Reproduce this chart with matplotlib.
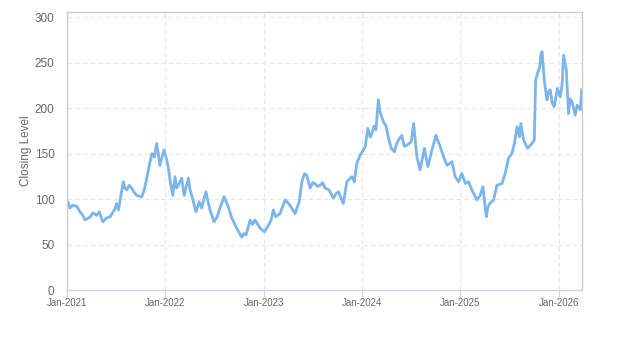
import pandas as pd
import matplotlib.pyplot as plt
import matplotlib.dates as mdates

# closing levels, sampled roughly every one to two weeks
dates = [
    '2021-01-01', '2021-01-05', '2021-01-12', '2021-01-22', '2021-02-06', '2021-02-18',
    '2021-03-01', '2021-03-09', '2021-03-27', '2021-04-08', '2021-04-21', '2021-05-01',
    '2021-05-14', '2021-05-27', '2021-06-10', '2021-06-28', '2021-07-04', '2021-07-11',
    '2021-07-29', '2021-08-04', '2021-08-11', '2021-08-20', '2021-08-29', '2021-09-08',
    '2021-09-17', '2021-10-06', '2021-10-15', '2021-10-24', '2021-11-05', '2021-11-12',
    '2021-11-21', '2021-11-30', '2021-12-06', '2021-12-12', '2021-12-20', '2021-12-27',
    '2022-01-05', '2022-01-12', '2022-01-20', '2022-01-29', '2022-02-06', '2022-02-12',
    '2022-02-18', '2022-03-03', '2022-03-12', '2022-03-28', '2022-04-03', '2022-04-09',
    '2022-04-25', '2022-05-07', '2022-05-16', '2022-06-01', '2022-06-08', '2022-06-16',
    '2022-07-01', '2022-07-13', '2022-07-23', '2022-08-07', '2022-08-15', '2022-08-23',
    '2022-09-05', '2022-09-23', '2022-10-12', '2022-10-20', '2022-10-28', '2022-11-12',
    '2022-11-21', '2022-11-30', '2022-12-19', '2023-01-04', '2023-01-19', '2023-01-29',
    '2023-02-06', '2023-02-15', '2023-03-03', '2023-03-22', '2023-04-01', '2023-04-09',
    '2023-04-28', '2023-05-13', '2023-05-23', '2023-06-02', '2023-06-10', '2023-06-23',
    '2023-07-02', '2023-07-11', '2023-07-20', '2023-07-30', '2023-08-08', '2023-08-17',
    '2023-09-01', '2023-09-17', '2023-09-27', '2023-10-06', '2023-10-24', '2023-11-06',
    '2023-11-25', '2023-12-04', '2023-12-13', '2023-12-25', '2024-01-07', '2024-01-13',
    '2024-01-23', '2024-02-01', '2024-02-07', '2024-02-15', '2024-02-22', '2024-03-02',
    '2024-03-08', '2024-03-15', '2024-03-22', '2024-03-30', '2024-04-09', '2024-04-19',
    '2024-05-01', '2024-05-08', '2024-05-16', '2024-05-28', '2024-06-06', '2024-06-16',
    '2024-07-02', '2024-07-11', '2024-07-23', '2024-08-04', '2024-08-20', '2024-09-02',
    '2024-09-17', '2024-10-02', '2024-10-10', '2024-10-18', '2024-10-30', '2024-11-12',
    '2024-11-30', '2024-12-12', '2024-12-25', '2025-01-06', '2025-01-19', '2025-01-31',
    '2025-02-12', '2025-03-03', '2025-03-15', '2025-03-25', '2025-04-07', '2025-04-12',
    '2025-04-19', '2025-05-04', '2025-05-16', '2025-06-04', '2025-06-16', '2025-06-28',
    '2025-07-11', '2025-07-20', '2025-07-30', '2025-08-08', '2025-08-13', '2025-08-23',
    '2025-09-07', '2025-09-23', '2025-10-02', '2025-10-07', '2025-10-14', '2025-10-22',
    '2025-10-27', '2025-10-31', '2025-11-08', '2025-11-18', '2025-11-24', '2025-11-30',
    '2025-12-08', '2025-12-15', '2025-12-27', '2026-01-06', '2026-01-13', '2026-01-19',
    '2026-01-29', '2026-02-06', '2026-02-12', '2026-02-19', '2026-03-03', '2026-03-10',
    '2026-03-16', '2026-03-22', '2026-03-27',
]
closing = [
    95, 97, 90, 93, 92, 86,
    82, 77, 80, 85, 82, 86,
    75, 79, 80.5, 89, 95, 88,
    119, 112, 110, 115, 112, 107,
    104, 102.5, 110, 123, 140, 150,
    146, 161, 150, 137, 146, 154,
    145, 135, 118, 104, 124.5, 112,
    115, 123, 104, 123, 110, 104,
    86, 97, 90, 108, 98, 88,
    75, 80.5, 90, 102.5, 97, 91.5,
    79, 68, 58, 62, 60.5, 77,
    72, 77, 68, 64, 71, 77,
    88, 80.5, 84, 99, 96, 93,
    84, 97, 119, 128, 126, 112,
    118, 117, 114, 115, 118, 112,
    110, 101, 106, 108, 95, 119,
    124.5, 119, 139, 148, 154, 157.5,
    177.7, 168, 172, 180, 176, 209,
    196, 190, 184, 181, 166.6, 155.7,
    152, 160, 165, 170, 158, 159,
    163, 183, 146.5, 132, 155.7, 135.5,
    154, 170, 163, 157.5, 146.5, 137,
    141, 124.5, 119, 128, 117, 119,
    110, 99, 104, 113.5, 80.5, 90,
    95, 99, 115, 117, 128, 144.7,
    150, 161, 179.5, 168.5, 183, 165,
    155.7, 161, 165, 231, 238, 245,
    260, 262, 231, 209, 218, 220,
    205, 201.5, 221.6, 212, 225, 258,
    242, 194, 210, 207, 192, 203,
    201.5, 198, 220,
]

x = pd.to_datetime(dates)

plt.rcParams['font.family'] = ['Liberation Sans', 'DejaVu Sans']

fig = plt.figure(figsize=(6.23, 3.5), dpi=100)
ax = fig.add_axes([0.1075, 0.1714, 0.8262, 0.7943])

ax.plot(x, closing, color='#7cb5ec', linewidth=2)

ax.set_xlim(x[0], x[-1])
ax.set_ylim(0, 305.5)
ax.set_yticks(range(0, 301, 50))
ax.xaxis.set_major_locator(mdates.YearLocator())
ax.xaxis.set_major_formatter(mdates.DateFormatter('%b-%Y'))

ax.grid(True, linestyle=(0, (4, 3)), color='#e6e6e6', linewidth=0.8)
ax.set_axisbelow(True)

for side in ['top', 'right', 'left']:
    ax.spines[side].set_color('#cccccc')
    ax.spines[side].set_linewidth(1)
ax.spines['bottom'].set_color('#ccd6eb')
ax.spines['bottom'].set_linewidth(1)

ax.tick_params(axis='y', length=0, pad=9, labelsize=8.5, labelcolor='#666666')
ax.tick_params(axis='x', length=5, width=1, color='#ccd6eb', pad=1,
               labelsize=7, labelcolor='#666666')

ax.set_ylabel('Closing Level', fontsize=8.5, color='#666666', labelpad=2)

fig.savefig('out.png', dpi=100)
